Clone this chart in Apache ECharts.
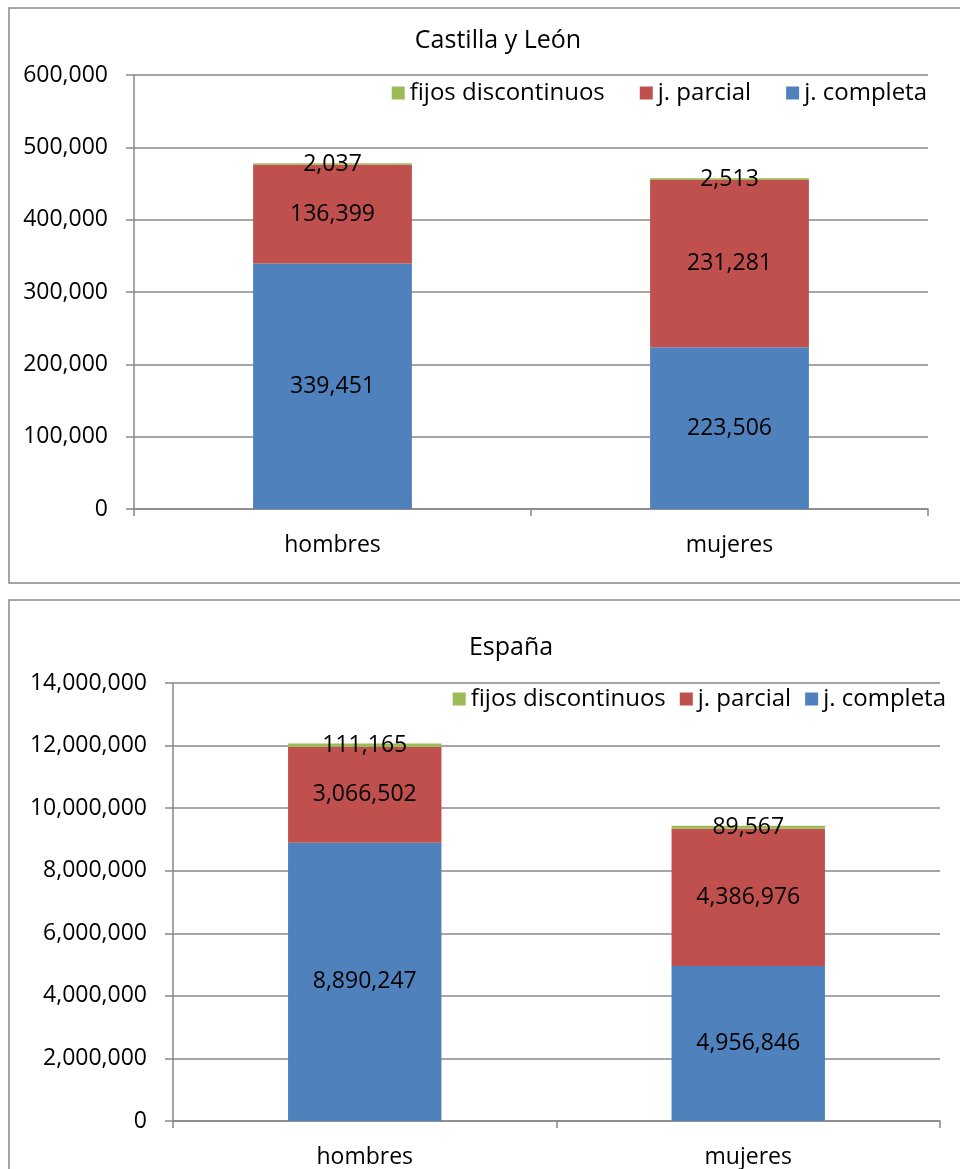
<!DOCTYPE html>
<html><head><meta charset="utf-8">
<script src="https://cdn.jsdelivr.net/npm/echarts@6/dist/echarts.min.js"></script>
<style>html,body{margin:0;padding:0;background:#fff;}#c{width:960px;height:1169px;}</style>
</head><body><div id="c"></div>
<script>
const categories = ['hombres', 'mujeres'];
const seriesNames = ['j. completa', 'j. parcial', 'fijos discontinuos'];
const clCompleta = [339451, 223506];
const clParcial = [136399, 231281];
const clFijos = [2037, 2513];
const esCompleta = [8890247, 4956846];
const esParcial = [3066502, 4386976];
const esFijos = [111165, 89567];
const titles = ['Castilla y León', 'España'];
const colors = ['#4F81BD', '#C0504D', '#9BBB59'];

const FONT = 'Open Sans';
const FS = 23;
const fmt = v => Number(v).toLocaleString('en-US');
const chart = echarts.init(document.getElementById('c'));

function mk(name, data, idx, color) {
  return {
    name, type: 'bar', stack: 's' + idx, data, xAxisIndex: idx, yAxisIndex: idx,
    barWidth: '40%', itemStyle: { color },
    label: { show: true, position: 'inside', color: '#000', fontFamily: FONT, fontSize: FS,
      formatter: p => fmt(p.value) },
    emphasis: { disabled: true }
  };
}

const yAxisCommon = (max, interval) => ({
  type: 'value', min: 0, max, interval,
  axisLine: { show: true, lineStyle: { color: '#888', width: 1.5 } },
  axisTick: { show: true, length: 8, lineStyle: { color: '#888', width: 1.5 } },
  splitLine: { lineStyle: { color: '#888', width: 1.5 } },
  axisLabel: { color: '#000', fontFamily: FONT, fontSize: FS, margin: 26, formatter: v => fmt(v) }
});
const xAxisCommon = () => ({
  type: 'category', data: categories,
  axisLine: { lineStyle: { color: '#888', width: 1.5 } },
  axisTick: { show: true, length: 7, alignWithLabel: false, lineStyle: { color: '#888', width: 1.5 } },
  axisLabel: { color: '#000', fontFamily: FONT, fontSize: FS, margin: 25 }
});

const legendCommon = {
  orient: 'horizontal', itemWidth: 13, itemHeight: 13, icon: 'rect',
  textStyle: { fontFamily: FONT, fontSize: 24, color: '#000' },
  selectedMode: false,
  data: ['fijos discontinuos', 'j. parcial', 'j. completa']
};

chart.setOption({
  animation: false,
  graphic: [
    { type: 'rect', shape: { x: 9, y: 8, width: 970, height: 575 }, style: { fill: 'none', stroke: '#888', lineWidth: 1.5 } },
    { type: 'rect', shape: { x: 9, y: 600, width: 970, height: 600 }, style: { fill: 'none', stroke: '#888', lineWidth: 1.5 } }
  ],
  title: [
    { text: titles[0], left: 493, top: 23, textAlign: 'center', textStyle: { fontFamily: FONT, fontSize: 25, fontWeight: 'normal', color: '#000' } },
    { text: titles[1], left: 506, top: 630, textAlign: 'center', textStyle: { fontFamily: FONT, fontSize: 25, fontWeight: 'normal', color: '#000' } }
  ],
  legend: [
    Object.assign({}, legendCommon, { right: 28, top: 76, itemGap: 35 }),
    Object.assign({}, legendCommon, { right: 9, top: 682, itemGap: 14 })
  ],
  grid: [
    { left: 134, top: 75, width: 794, height: 434 },
    { left: 173, top: 683, width: 767, height: 439 }
  ],
  xAxis: [Object.assign(xAxisCommon(), { gridIndex: 0 }), Object.assign(xAxisCommon(), { gridIndex: 1 })],
  yAxis: [Object.assign(yAxisCommon(600000, 100000), { gridIndex: 0 }), Object.assign(yAxisCommon(14000000, 2000000), { gridIndex: 1 })],
  series: [
    mk(seriesNames[0], clCompleta, 0, colors[0]),
    mk(seriesNames[1], clParcial, 0, colors[1]),
    mk(seriesNames[2], clFijos, 0, colors[2]),
    mk(seriesNames[0], esCompleta, 1, colors[0]),
    mk(seriesNames[1], esParcial, 1, colors[1]),
    mk(seriesNames[2], esFijos, 1, colors[2])
  ]
});
</script></body></html>
